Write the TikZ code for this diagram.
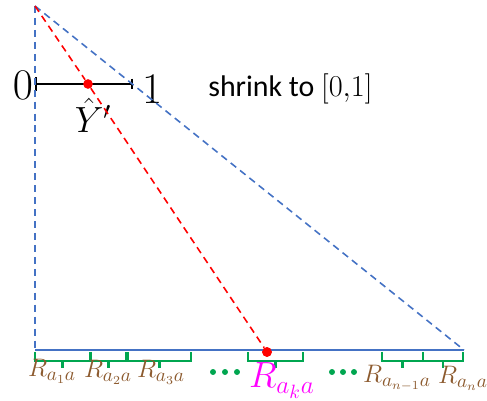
\documentclass[tikz,border=0pt]{standalone}
\usepackage{fontspec}
\usepackage{tikz}
\usetikzlibrary{arrows.meta, positioning, calc}
\newfontfamily\shrinkfont{Carlito}
\definecolor{ProjBlue}{HTML}{4472C4}
\definecolor{ProjRed}{HTML}{FF0000}
\definecolor{CellGreen}{HTML}{00A650}
\definecolor{CellBrown}{HTML}{8C5A2E}
\definecolor{CellMagenta}{HTML}{FF00FF}
\tikzset{
    % Line styles
    bluedash/.style={
        draw=ProjBlue,
        line width=0.9pt,
        dash pattern=on 4pt off 2.8pt
    },
    reddash/.style={
        draw=ProjRed,
        line width=0.9pt,
        dash pattern=on 4pt off 2.8pt
    },
    baseline/.style={
        draw=ProjBlue,
        line width=0.9pt
    },
    unitseg/.style={
        draw=black,
        line width=1.7pt,
        {Bar[width=8pt,line width=1.2pt]}-{Bar[width=6pt,line width=1.2pt]}
    },
    % Cell brackets
    cellbracket/.style={
        draw=CellGreen,
        line width=1.3pt
    },
    celldot/.style={
        circle,
        fill=CellGreen,
        inner sep=0pt,
        minimum size=3.4pt
    },
    reddot/.style={
        circle,
        fill=ProjRed,
        inner sep=0pt,
        minimum size=5.5pt
    },
    % Labels
    celllabel/.style={
        anchor=base,
        inner sep=0pt,
        text=CellBrown,
        font=\fontsize{15}{18}\selectfont
    },
    endlabel/.style={
        inner sep=0pt,
        font=\fontsize{24}{28}\selectfont
    }
}

\begin{document}
\begin{tikzpicture}[x=0.02cm, y=-0.02cm]
                \useasboundingbox (0,0) rectangle (487,401);

                % Triangle corners
                \coordinate (apex) at (35,6);
                \coordinate (origin) at (35,350);
                \coordinate (far) at (464,350);
                \node[reddot] (cell) at (267,352) {};

                % Unit segment
                \coordinate (zero) at (35,84);
                \coordinate (one) at (133,84);
                \draw[unitseg] (zero) -- (one);
                \node[endlabel, left=1pt of zero, yshift=-1pt] (zerolab) {$0$};
                \node[endlabel, right=5pt of one, yshift=-3pt] (onelab) {$1$};
                \node[reddot] (yhat) at (88,84) {};
                \node[inner sep=0pt, font=\fontsize{20}{24}\selectfont] (yhatlab) at (93,115) {$\hat{Y}'$};
                \node[inner sep=0pt, font=\fontsize{17}{20}\selectfont, anchor=west] (shrink) at (208,89)
                    {\shrinkfont shrink to $[0{,}1]$};

                % Projection lines
                \draw[bluedash] (apex) -- (origin);
                \draw[bluedash] (apex) -- (far);
                \draw[reddash] (apex) -- (yhat) -- (cell);
                \draw[baseline] (origin) -- (far);

                % Cells along the base
                \foreach \lo/\hi/\nm in {35/90/ca, 91/126/cb, 128/191/cc, 248/303/ck, 382/423/cm, 423/463/cn}{
                    \draw[cellbracket] (\lo,352) -- (\lo,361) -- (\hi,361) -- (\hi,352);
                    \coordinate (\nm) at ({(\lo+\hi)/2},361);
                    \draw[cellbracket] (\nm) -- ++(0,7);
                }
                \node[reddot] at (cell) {};

                \node[celllabel] (laba) at (52,377) {$R_{a_1a}$};
                \node[celllabel] (labb) at (108,378) {$R_{a_2a}$};
                \node[celllabel] (labc) at (161,378) {$R_{a_3a}$};
                \node[celllabel, text=CellMagenta, font=\fontsize{21}{25}\selectfont] (labk) at (282,388) {$R_{a_ka}$};
                \node[celllabel] (labm) at (397,383) {$R_{a_{n-1}a}$};
                \node[celllabel] (labn) at (463,384) {$R_{a_na}$};

                % Ellipsis dots
                \foreach \x in {213,225,237,332,343,354}
                    \node[celldot] at (\x,372) {};
            \end{tikzpicture}
\end{document}
